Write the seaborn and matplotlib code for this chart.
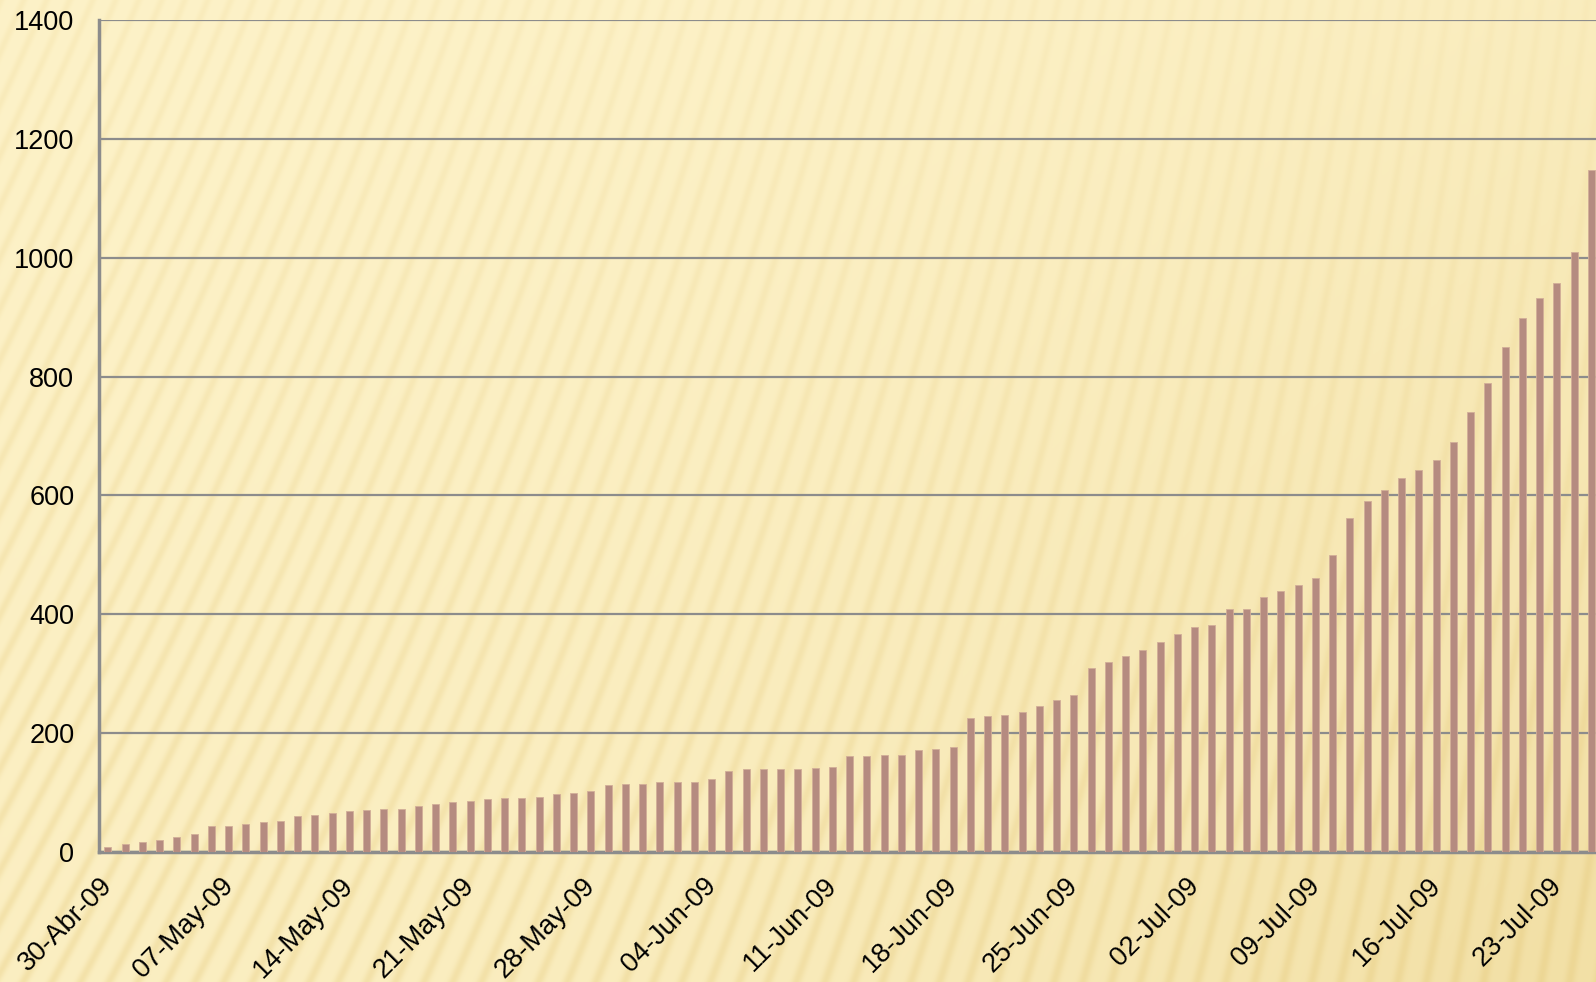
import matplotlib
matplotlib.use("Agg")
import matplotlib.pyplot as plt
import numpy as np
import pandas as pd
import seaborn as sns

# casos acumulados por día, 30-Abr-09 .. 25-Jul-09
fechas = pd.date_range("2009-04-30", "2009-07-25", freq="D")
casos = [8, 13, 17, 20, 26, 30, 44, 44, 47, 50, 53, 61, 63, 65, 69, 71, 72, 72,
         77, 80, 84, 86, 89, 91, 91, 92, 98, 99, 103, 113, 115, 115, 117, 118,
         118, 123, 137, 139, 139, 139, 140, 142, 143, 162, 162, 163, 163, 171,
         173, 176, 226, 229, 231, 235, 245, 256, 264, 309, 320, 329, 340, 353,
         367, 378, 382, 409, 409, 429, 439, 450, 461, 500, 562, 590, 609, 630,
         642, 659, 690, 740, 790, 850, 899, 932, 957, 1010, 1148]
etiquetas = ["30-Abr-09", "07-May-09", "14-May-09", "21-May-09", "28-May-09",
             "04-Jun-09", "11-Jun-09", "18-Jun-09", "25-Jun-09", "02-Jul-09",
             "09-Jul-09", "16-Jul-09", "23-Jul-09"]
yticks = [0, 200, 400, 600, 800, 1000, 1200, 1400]

df = pd.DataFrame({"fecha": fechas.strftime("%Y-%m-%d"), "casos": casos})

sns.set_style("white")
plt.rcParams['font.family'] = ['Liberation Sans', 'DejaVu Sans']

W, H = 1596, 982
fig = plt.figure(figsize=(W / 100, H / 100), dpi=100)

# fondo amarillo con rayas diagonales (más marcadas abajo y a la izquierda)
yy, xx = np.mgrid[0:H, 0:W].astype(float)
tilt = 0.45 - 0.32 * xx / W
u = xx + yy * tilt
s = ((1 + np.cos(2 * np.pi * u / 23)) / 2) ** 3
amp = np.clip(0.2 + 0.45 * yy / H + 0.25 * (1 - xx / W), 0, 1)
g = np.clip(0.2 * yy / H + 0.6 * (xx / W) ** 2 * (0.5 + yy / H), 0, 1)
a = np.clip(0.45 * s * amp + 0.55 * g, 0, 1)[..., None]
light = np.array([253, 242, 200]) / 255
dark = np.array([234, 210, 140]) / 255
img = light * (1 - a) + dark * a
bg = fig.add_axes([0, 0, 1, 1])
bg.imshow(img, aspect="auto", interpolation="bilinear")
bg.axis("off")

ax = fig.add_axes([99.3 / W, 1 - 852 / H, 1 - 99.3 / W, (852 - 20) / H])
ax.patch.set_alpha(0)
sns.barplot(data=df, x="fecha", y="casos", color="#B58B80", saturation=1,
            width=0.4, edgecolor="#D2AE98", linewidth=0.6, ax=ax, zorder=3)

ax.set_xlim(-0.5, 86.27)
ax.set_ylim(0, 1400)
ax.set_yticks(yticks)
ax.set_yticklabels([str(v) for v in yticks])
ax.yaxis.grid(True, color="#8C8C8C", linewidth=1.6, zorder=1)
ax.set_axisbelow(True)

ax.set_xticks(np.arange(0, len(casos), 7) - 0.5)
ax.set_xticklabels(etiquetas, rotation=45, ha="right", va="top",
                   rotation_mode="anchor")
ax.tick_params(axis="both", direction="out", length=8, width=2,
               color="#8C8C8C", labelsize=19.5, labelcolor="black")
ax.tick_params(axis="y", pad=10)
ax.tick_params(axis="x", pad=7)
ax.set_xlabel("")
ax.set_ylabel("")

for side in ["top", "right"]:
    ax.spines[side].set_visible(False)
for side in ["left", "bottom"]:
    ax.spines[side].set_color("#8C8C8C")
    ax.spines[side].set_linewidth(2.5)

fig.savefig("out.png", dpi=100)
